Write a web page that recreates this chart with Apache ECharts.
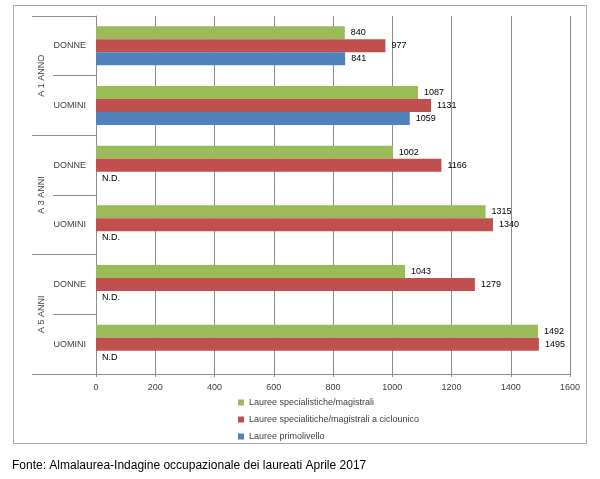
<!DOCTYPE html>
<html>
<head>
<meta charset="utf-8">
<script src="https://cdn.jsdelivr.net/npm/echarts@6/dist/echarts.min.js"></script>
<style>html,body{margin:0;padding:0;background:#fff}#c{width:600px;height:479px}</style>
</head>
<body>
<div id="c"></div>
<script>
var groups = ['A 1 ANNO', 'A 3 ANNI', 'A 5 ANNI'];
var categories = ['DONNE', 'UOMINI', 'DONNE', 'UOMINI', 'DONNE', 'UOMINI'];
var seriesNames = ['Lauree specialistiche/magistrali', 'Lauree specialitiche/magistrali a ciclounico', 'Lauree primolivello'];
var specialistiche = [840, 1087, 1002, 1315, 1043, 1492];
var cicloUnico = [977, 1131, 1166, 1340, 1279, 1495];
var primoLivello = [841, 1059, null, null, null, null];
var ndLabels = ['', '', 'N.D.', 'N.D.', 'N.D.', 'N.D'];
var xTicks = [0, 200, 400, 600, 800, 1000, 1200, 1400, 1600];
var sourceText = 'Fonte: Almalaurea-Indagine occupazionale dei laureati Aprile 2017';
var colors = ['#9BBB59', '#C0504D', '#4F81BD'];

var font = 'Liberation Sans, Arial, sans-serif';
var chart = echarts.init(document.getElementById('c'), null, {renderer: 'canvas'});

function labelCfg(extra) {
  return Object.assign({show: true, position: 'right', distance: 6, fontSize: 9, color: '#000', fontFamily: font}, extra || {});
}

var option = {
  animation: false,
  backgroundColor: '#fff',
  color: colors,
  grid: {left: 96, right: 30, top: 16, bottom: 105},
  xAxis: {
    type: 'value', min: xTicks[0], max: xTicks[xTicks.length - 1], interval: 200,
    axisLine: {show: true, lineStyle: {color: '#8c8c8c'}},
    axisTick: {show: true, length: 3, lineStyle: {color: '#8c8c8c'}},
    axisLabel: {fontSize: 9, color: '#404040', margin: 9, fontFamily: font,
      formatter: function (v) { return String(v); }},
    splitLine: {show: true, lineStyle: {color: '#8c8c8c'}}
  },
  yAxis: [{
    type: 'category', inverse: true, data: categories, position: 'left',
    axisLine: {show: true, lineStyle: {color: '#8c8c8c'}},
    axisTick: {show: true, length: 43, lineStyle: {color: '#8c8c8c'}},
    axisLabel: {fontSize: 9, color: '#404040', margin: 10, fontFamily: font}
  }, {
    type: 'category', inverse: true, data: groups, position: 'left',
    axisLine: {show: false},
    axisTick: {show: true, length: 64, lineStyle: {color: '#8c8c8c'}},
    axisLabel: {fontSize: 9, color: '#404040', rotate: 90, margin: 50, fontFamily: font}
  }],
  legend: {
    orient: 'vertical', left: 233, top: 392,
    itemWidth: 6, itemHeight: 6, itemGap: 6, itemTextGap: 3,
    icon: 'rect',
    textStyle: {fontSize: 9, color: '#404040', fontFamily: font, lineHeight: 11},
    data: seriesNames
  },
  series: [{
    name: seriesNames[0], type: 'bar', barWidth: 13, barGap: '0%',
    data: specialistiche, label: labelCfg()
  }, {
    name: seriesNames[1], type: 'bar', barWidth: 13, barGap: '0%',
    data: cicloUnico, label: labelCfg()
  }, {
    name: seriesNames[2], type: 'bar', barWidth: 13, barGap: '0%',
    data: primoLivello.map(function (v, i) { return v === null ? {value: 0} : v; }),
    label: labelCfg({
      formatter: function (p) { return ndLabels[p.dataIndex] ? ndLabels[p.dataIndex] : p.value; }
    })
  }],
  graphic: [{
    type: 'rect', silent: true, z: -1,
    shape: {x: 13.5, y: 5.5, width: 573, height: 438},
    style: {fill: null, stroke: '#a6a6a6', lineWidth: 1}
  }, {
    type: 'text', left: 12, top: 460,
    style: {text: sourceText, fontSize: 12, fill: '#000', fontFamily: font}
  }]
};
chart.setOption(option);
</script>
</body>
</html>
